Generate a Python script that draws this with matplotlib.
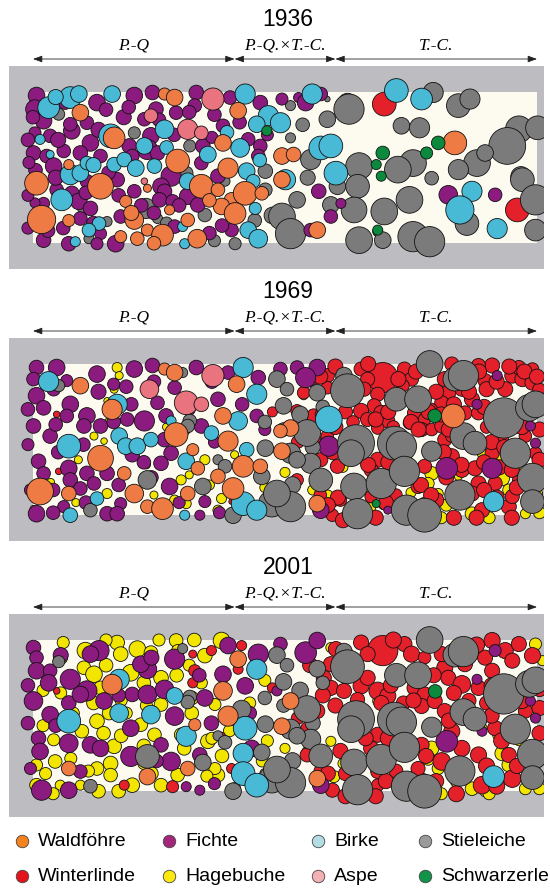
import matplotlib.pyplot as plt
from matplotlib.patches import Circle, Rectangle
from matplotlib.collections import PatchCollection

# Stem maps of a 100 m x 30 m plot; x from west edge, y from north edge, d = crown diameter (m)
# --- 1936 ---
fichte_1936 = [
    (0.7, 0.7, 3.3), (0.4, 3.4, 3.7), (6.4, 2.1, 2.7), (12.7, 2.1, 3.3), (20.1, 0.7, 3.3),
    (23.7, 0.1, 2.9), (24.4, 3.4, 2.9), (22.1, 5.4, 2.7), (28.4, 4.1, 2.7), (32.4, 0.1, 2.9),
    (32.1, 2.7, 2.7), (39.1, 1.1, 2.7), (45.1, 2.1, 2.9), (2.1, 5.7, 3.3), (3.4, 8.7, 2.7),
    (0.4, 8.1, 2.4), (7.7, 7.7, 3.3), (7.4, 6.4, 2.7), (10.7, 6.1, 2.7), (11.4, 10.1, 3.3),
    (19.1, 10.7, 2.9), (23.4, 8.7, 3.3), (22.7, 11.4, 4.0), (33.7, 10.7, 2.9), (37.7, 6.7, 2.7),
    (42.7, 9.4, 2.7), (45.1, 10.7, 2.7), (0.1, 12.1, 2.9), (2.7, 12.7, 2.7), (4.1, 14.7, 3.3),
    (6.1, 11.7, 2.7), (9.4, 12.1, 2.9), (13.4, 12.7, 2.7), (19.7, 12.7, 2.7), (24.7, 12.1, 2.9),
    (27.4, 16.7, 4.0), (33.4, 14.1, 2.7), (36.7, 16.7, 2.9), (44.7, 12.7, 2.7), (4.7, 19.4, 2.7),
    (7.7, 20.1, 2.9), (10.7, 17.7, 2.7), (16.7, 17.4, 2.9), (20.1, 19.7, 2.7), (25.4, 18.7, 3.3),
    (26.1, 19.7, 2.9), (30.7, 20.7, 3.3), (2.1, 22.1, 2.4), (9.1, 21.7, 3.3), (11.4, 23.1, 2.9),
    (25.1, 21.4, 2.9), (27.7, 21.7, 2.7), (32.7, 22.4, 2.9), (9.4, 25.1, 2.7), (13.4, 28.1, 2.4),
    (17.4, 24.7, 2.7), (28.1, 26.7, 2.7), (39.4, 27.4, 2.7), (2.1, 29.4, 2.9), (7.1, 30.1, 2.9),
    (12.7, 30.1, 2.4), (16.4, 30.1, 3.3), (0.0, 5.0, 2.7), (0.4, 22.0, 2.0),
    (5.0, 9.5, 3.0), (13.0, 7.5, 3.0), (18.0, 5.0, 3.0), (14.5, 3.5, 2.7), (4.5, 17.0, 3.0),
    (15.0, 16.0, 2.7), (17.0, 20.5, 2.7), (12.0, 26.0, 2.7), (6.0, 27.0, 2.7), (3.0, 27.5, 2.7),
    (21.5, 22.5, 2.7), (28.0, 8.5, 2.7), (31.0, 4.0, 2.7), (36.0, 4.5, 2.7), (35.0, 28.0, 2.7),
    (37.5, 26.5, 2.7), (25.0, 5.5, 2.7), (19.0, 3.0, 2.7), (0.5, 15.5, 2.7), (-1.0, 27.0, 2.4),
    (10.5, 20.0, 2.7), (24.0, 24.0, 2.7), (29.0, 22.5, 2.7), (35.5, 9.0, 2.4), (41.0, 6.0, 2.7),
    (46.5, 8.5, 2.4), (-1.0, 9.5, 2.7), (-0.8, 14.0, 2.4), (-1.0, 20.5, 2.4),
    (49.4, 1.4, 2.4), (52.7, 1.1, 2.0), (54.1, 2.1, 3.3), (57.1, 0.4, 2.7), (82.4, 20.4, 3.7),
    (91.7, 20.4, 2.7), (56.7, 19.7, 2.9), (59.1, 16.1, 2.0), (61.1, 22.1, 2.0), (59.1, 24.7, 2.7),
    (55.1, 27.4, 2.7),
]
birke_1936 = [
    (3.1, 3.1, 4.3), (7.4, 1.1, 4.3), (9.1, 0.4, 3.3), (15.7, 0.4, 3.3), (42.1, 0.4, 4.0),
    (46.7, 4.7, 4.0), (1.4, 9.4, 2.0), (15.4, 8.7, 4.7), (26.1, 7.4, 3.7), (22.1, 10.7, 3.3),
    (41.1, 11.1, 3.7), (44.4, 6.4, 3.3), (3.4, 12.4, 1.6), (7.4, 16.4, 4.0), (9.4, 16.1, 3.3),
    (10.7, 14.1, 2.7), (16.1, 14.4, 2.9), (18.1, 13.4, 2.9), (20.4, 15.1, 3.3), (24.1, 14.7, 2.9),
    (34.7, 12.4, 3.3), (42.4, 15.7, 3.3), (30.7, 17.7, 3.3), (43.7, 17.7, 2.7), (5.7, 21.4, 4.3),
    (44.1, 23.1, 2.4), (13.1, 26.1, 2.7), (11.1, 27.4, 2.7), (29.7, 26.7, 2.0), (42.7, 27.4, 3.3),
    (44.7, 29.1, 3.7), (8.4, 29.7, 2.0), (30.1, 30.1, 2.0),
    (12.0, 14.5, 3.0), (26.5, 11.0, 2.7), (38.5, 8.0, 2.7), (45.0, 13.5, 2.7), (4.5, 1.0, 3.0),
    (55.4, 0.4, 4.0), (49.1, 6.1, 4.0), (57.1, 11.1, 4.7), (59.1, 10.7, 4.7), (60.1, 16.1, 4.7),
    (50.1, 17.4, 4.0), (72.1, -0.3, 4.7), (77.1, 1.4, 4.3), (87.1, 19.7, 4.0), (84.7, 23.4, 5.6),
    (92.1, 27.1, 4.0),
]
aspe_1936 = [(35.7, 1.4, 4.4), (30.7, 7.4, 4.0), (33.4, 8.1, 2.7), (23.4, 4.7, 2.7), (22.1, 17.7, 1.3)]
waldfoehre_1936 = [
    (9.4, 4.1, 3.3), (26.1, 0.4, 2.4), (28.1, 1.1, 3.3), (40.7, 3.7, 3.3), (16.1, 9.1, 4.3),
    (37.7, 10.1, 3.3), (7.1, 14.4, 2.0), (28.7, 13.7, 4.7), (38.7, 15.1, 4.0), (0.7, 18.1, 4.7),
    (13.4, 18.7, 5.1), (22.7, 19.1, 1.6), (33.4, 18.7, 4.7), (36.7, 19.4, 2.7), (39.4, 21.4, 2.9),
    (42.1, 20.1, 4.7), (45.4, 20.1, 2.7), (18.4, 21.7, 2.4), (27.1, 23.4, 2.0), (37.4, 22.7, 3.3),
    (40.1, 24.1, 4.3), (1.7, 25.3, 5.6), (7.1, 25.5, 2.4), (20.1, 25.4, 3.7), (22.7, 27.4, 2.4),
    (25.7, 28.4, 4.3), (30.7, 25.4, 2.7), (17.4, 28.7, 2.4), (20.7, 29.1, 2.7), (32.6, 29.1, 3.7),
    (19.5, 24.0, 3.0), (35.0, 21.5, 2.7), (24.0, 30.0, 2.7),
    (49.4, 12.7, 3.3), (51.7, 12.4, 2.9), (49.4, 17.4, 3.3), (83.7, 10.1, 4.7), (56.4, 27.4, 3.3),
]
stieleiche_1936 = [
    (5.1, 4.4, 2.4), (20.1, 8.1, 2.4), (31.1, 10.7, 2.4), (30.4, 16.1, 2.7), (46.1, 15.7, 2.9),
    (38.1, 17.7, 2.0), (46.1, 19.4, 2.7), (22.4, 23.1, 4.0), (34.1, 24.4, 2.7), (14.7, 25.7, 2.0),
    (24.7, 25.1, 2.0), (11.1, 29.1, 2.0), (40.1, 30.1, 2.4), (10.0, 23.0, 2.4), (26.5, 26.0, 2.4),
    (36.0, 29.5, 2.4), (44.0, 25.5, 2.7), (47.5, 24.5, 3.3),
    (58.4, 1.4, 1.1), (51.1, 2.7, 2.0), (62.4, 2.1, 3.7), (62.7, 3.4, 6.0), (58.4, 5.4, 3.3),
    (79.4, 0.1, 4.0), (84.4, 2.7, 4.7), (86.7, 1.4, 4.0), (73.1, 6.7, 3.3), (76.7, 7.1, 4.0),
    (96.4, 7.4, 5.3), (100.1, 7.1, 4.7), (94.1, 10.7, 7.3), (51.1, 9.1, 2.0), (55.1, 13.4, 4.0),
    (75.4, 14.1, 5.3), (72.4, 15.4, 5.3), (64.7, 14.7, 5.3), (60.4, 18.7, 3.3), (64.4, 18.7, 4.7),
    (88.1, 14.1, 5.3), (89.7, 12.1, 3.3), (84.4, 15.4, 4.0), (79.1, 17.1, 2.7), (96.8, 16.8, 4.0),
    (97.1, 17.4, 4.7), (99.7, 21.4, 6.0), (86.1, 26.1, 4.7), (99.7, 27.4, 4.3), (63.7, 23.4, 5.1),
    (69.7, 23.7, 5.3), (74.7, 21.4, 5.3), (59.1, 22.4, 3.3), (52.4, 21.4, 3.3), (49.4, 24.7, 5.3),
    (51.1, 28.1, 6.0), (64.7, 29.4, 5.3), (68.4, 27.7, 2.0), (75.4, 28.7, 6.0), (78.7, 29.7, 6.0),
    (69.4, 29.4, 3.3), (53.5, 6.5, 2.7), (54.5, 17.0, 3.0),
]
winterlinde_1936 = [(69.7, 2.4, 4.7), (96.1, 23.4, 4.7)]
schwarzerle_1936 = [
    (69.4, 12.1, 2.7), (68.1, 14.4, 2.0), (69.1, 16.7, 2.0), (78.1, 12.1, 2.4), (80.4, 10.1, 2.7),
    (68.4, 27.4, 2.0), (46.4, 7.7, 2.0),
]

# --- 1969 ---
fichte_1969 = [
    (0.7, 0.7, 2.9), (4.7, 0.7, 3.3), (0.1, 3.0, 2.7), (6.7, 3.3, 2.4), (12.7, 2.0, 3.3),
    (20.1, 1.0, 3.3), (23.7, 0.3, 2.9), (32.4, 0.7, 2.9), (38.7, 1.7, 2.7), (44.7, 2.7, 2.9),
    (0.7, 6.3, 3.3), (2.1, 8.7, 2.9), (7.4, 8.0, 3.3), (6.7, 10.3, 2.7), (10.7, 10.3, 3.3),
    (18.7, 11.0, 2.7), (24.7, 7.7, 2.7), (22.1, 11.3, 4.0), (28.1, 4.7, 2.7), (26.4, 10.3, 2.9),
    (36.7, 7.0, 2.9), (44.4, 10.3, 2.7), (0.1, 12.3, 2.9), (3.4, 14.3, 2.9), (10.1, 12.3, 2.9),
    (13.4, 12.3, 2.9), (26.1, 15.0, 2.9), (33.4, 12.3, 2.9), (19.7, 18.0, 2.9), (27.4, 17.7, 2.9),
    (1.1, 19.3, 2.9), (2.1, 21.7, 2.7), (7.1, 20.7, 3.3), (7.4, 23.0, 2.9), (10.7, 21.7, 2.9),
    (14.7, 21.7, 2.9), (25.4, 19.7, 2.9), (27.1, 24.3, 3.3), (9.4, 24.7, 2.7), (12.1, 23.7, 2.7),
    (17.4, 27.7, 2.4), (34.1, 27.3, 2.4), (0.7, 29.7, 3.3), (6.1, 28.3, 2.4), (14.7, 29.7, 2.9),
    (16.7, 29.7, 2.9), (33.1, 30.0, 2.0), (4.1, 5.0, 2.7), (16.0, 4.0, 2.4), (30.0, 13.0, 2.4),
    (13.0, 5.5, 3.0), (18.5, 4.5, 2.7), (4.5, 12.0, 2.7), (16.0, 11.5, 2.7), (5.0, 17.5, 2.7),
    (10.0, 16.0, 2.7), (22.0, 19.5, 2.7), (17.0, 24.0, 2.7), (23.5, 22.5, 2.7), (4.0, 25.0, 2.7),
    (10.5, 27.5, 2.7), (4.0, 29.5, 2.7), (35.5, 3.5, 2.7), (31.0, 9.0, 2.4), (41.5, 8.0, 2.7),
    (46.0, 13.0, 2.4), (36.0, 15.5, 2.4), (24.0, 3.5, 2.7), (19.5, 8.0, 2.7), (29.0, 27.5, 2.4),
    (37.0, 29.5, 2.4), (-1.0, 9.0, 2.7), (-1.0, 16.0, 2.4), (-0.5, 25.0, 2.4),
    (49.1, 1.0, 2.7), (52.4, 0.7, 2.7), (56.4, 0.7, 3.3), (54.1, 2.7, 4.0), (58.7, 16.3, 4.0),
    (49.1, 17.0, 2.0), (82.1, 20.7, 4.3), (91.1, 20.7, 4.0), (92.1, 2.3, 2.0), (88.1, 8.0, 2.0),
    (98.7, 12.3, 2.0), (99.7, 15.7, 2.0), (57.1, 29.0, 3.3), (70.4, 29.0, 1.6),
]
hagebuche_1969 = [
    (16.7, 0.7, 2.0), (17.1, 2.3, 1.6), (16.1, 5.0, 1.6), (14.7, 7.3, 1.3), (12.1, 14.3, 1.6),
    (14.1, 15.3, 1.3), (2.4, 21.3, 1.3), (34.1, 19.0, 2.0), (29.4, 23.0, 2.0), (14.7, 25.7, 2.0),
    (28.1, 27.0, 2.0), (30.4, 27.7, 2.0), (37.4, 26.7, 2.0), (36.7, 29.0, 2.0), (0.1, 28.7, 1.3),
    (9.0, 19.0, 1.6), (12.0, 18.0, 1.6), (22.5, 20.0, 1.6), (31.0, 22.0, 1.6), (35.0, 24.0, 2.0),
    (42.5, 27.0, 1.6), (8.5, 27.5, 1.6), (24.0, 26.0, 1.6), (3.5, 23.5, 1.6), (15.0, 11.5, 1.6),
    (26.5, 12.5, 1.6), (40.0, 18.0, 1.6), (46.0, 24.5, 2.0), (50.0, 21.5, 2.0), (55.5, 25.0, 2.0),
    (58.5, 26.0, 2.0), (61.5, 20.5, 2.0), (67.0, 28.5, 2.0),
    (79.1, 21.7, 2.7), (78.4, 23.7, 2.4), (80.4, 25.7, 2.0), (93.1, 22.7, 2.9), (94.4, 25.0, 2.4),
    (87.1, 29.7, 2.7), (97.7, 29.7, 2.0), (59.7, 27.3, 2.0), (53.7, 6.3, 1.6), (89.1, 17.7, 2.0),
    (92.4, 19.0, 2.0), (100.1, 25.7, 2.0), (84.4, 22.3, 1.6), (75.0, 25.5, 2.0), (82.0, 28.0, 2.4),
    (81.0, 30.5, 2.4), (90.5, 30.5, 2.4), (100.5, 29.5, 2.4), (96.5, 20.0, 2.0), (77.5, 27.5, 2.0),
]
winterlinde_1969 = [
    (4.7, 10.0, 1.3), (5.1, 21.3, 1.3), (39.4, 27.3, 1.1), (52.5, 15.5, 2.5), (47.5, 9.5, 2.0),
    (57.0, 26.0, 2.5),
    (69.4, 2.7, 6.0), (65.1, 1.0, 2.8), (66.4, 3.0, 2.8), (65.7, 5.0, 2.8), (68.4, 6.0, 2.8),
    (67.7, 8.3, 2.8), (65.1, 9.3, 3.0), (66.4, 11.0, 2.8), (69.1, 9.7, 3.0), (70.4, 11.3, 2.8),
    (68.4, 12.7, 2.5), (73.7, 1.0, 2.8), (75.1, 3.0, 2.8), (73.4, 4.3, 2.5), (75.7, 9.7, 2.8),
    (74.7, 11.7, 2.5), (77.7, 11.0, 2.5), (77.1, 13.0, 2.8), (79.1, 13.0, 2.5), (81.1, 12.3, 2.8),
    (81.7, 3.0, 3.0), (82.4, 5.7, 3.0), (81.1, 7.7, 2.8), (85.1, 5.0, 2.8), (87.1, 7.0, 3.0),
    (85.7, 9.7, 2.8), (88.4, 9.7, 2.8), (89.7, 3.3, 2.8), (91.1, 0.3, 3.0), (93.7, 5.0, 3.0),
    (95.1, 2.3, 3.0), (97.1, 3.0, 3.0), (99.1, 3.7, 3.0), (96.4, 0.7, 2.8), (99.1, 1.0, 2.5),
    (100.4, 5.0, 2.5), (88.4, 0.3, 2.8), (83.1, 0.0, 2.8), (58.4, 2.3, 2.8), (58.4, 4.7, 2.5),
    (55.1, 3.0, 2.8), (53.7, 5.7, 2.5), (52.4, 9.3, 2.5), (55.7, 10.3, 2.8), (55.7, 15.0, 2.8),
    (58.4, 14.3, 2.5), (57.1, 19.0, 2.8), (52.4, 23.0, 2.5), (59.4, 30.0, 2.5), (60.4, 20.3, 2.8),
    (68.4, 19.0, 3.0), (67.1, 21.0, 2.8), (67.7, 23.0, 2.8), (67.1, 26.3, 2.5), (69.7, 27.7, 2.5),
    (76.4, 24.3, 2.8), (77.7, 20.3, 2.8), (83.1, 18.3, 3.0), (85.1, 21.0, 3.0), (87.7, 20.7, 3.0),
    (88.4, 23.7, 3.0), (87.1, 25.7, 3.0), (89.1, 29.0, 3.0), (94.4, 28.3, 3.0), (95.1, 26.3, 2.8),
    (96.4, 23.0, 2.5), (91.7, 23.7, 2.8), (91.1, 17.7, 2.8), (93.1, 15.0, 2.5), (97.7, 14.3, 2.5),
    (99.7, 17.7, 2.5), (81.7, 15.0, 2.8), (83.1, 14.3, 2.5), (62.0, 9.5, 2.8), (63.5, 11.5, 2.5),
    (71.5, 12.5, 2.5), (79.0, 9.0, 2.5), (90.0, 12.5, 2.5), (61.0, 27.0, 2.5), (72.0, 26.0, 2.5),
    (57.0, 2.5, 3.0), (60.0, 0.5, 3.0), (66.5, 0.0, 3.0), (72.5, 3.0, 3.0), (76.0, 1.5, 3.0),
    (80.0, 5.5, 3.0), (78.5, 9.5, 3.0), (81.0, 10.0, 3.0), (83.5, 8.0, 3.0), (86.5, 5.5, 3.0),
    (88.5, 1.5, 3.0), (90.0, 5.0, 3.0), (92.0, 3.5, 3.0), (94.5, 0.5, 3.0), (97.5, 1.5, 3.0),
    (100.0, 2.5, 3.0), (89.5, 8.5, 3.0), (91.0, 15.5, 3.0), (93.5, 16.5, 3.0), (89.5, 19.5, 3.0),
    (92.5, 20.5, 3.0), (97.0, 12.5, 3.0), (100.5, 13.0, 3.0), (100.5, 19.0, 3.0), (95.0, 21.0, 3.0),
    (96.0, 24.5, 3.0), (92.0, 26.5, 3.0), (89.5, 25.0, 3.0), (85.0, 20.0, 3.0), (82.0, 22.5, 3.0),
    (80.0, 27.0, 3.0), (83.5, 30.5, 3.0), (88.0, 30.5, 3.0), (95.0, 30.5, 3.0), (70.5, 19.5, 3.0),
    (66.5, 20.0, 3.0), (59.5, 17.5, 3.0), (60.0, 12.5, 3.0), (57.5, 10.0, 3.0), (68.0, 11.0, 3.0),
    (70.5, 9.5, 3.0), (75.0, 11.5, 3.0), (76.5, 13.0, 3.0), (81.5, 17.5, 3.0), (82.5, 13.0, 3.0),
    (77.0, 24.0, 3.0), (79.0, 26.0, 3.0), (70.0, 27.5, 3.0), (60.5, 26.5, 3.0), (58.5, 28.0, 3.0),
    (68.0, 30.5, 3.0), (61.5, 31.0, 3.0),
]
stieleiche_1969 = [
    (5.1, 4.3, 2.4), (29.7, 1.7, 2.0), (31.1, 11.3, 2.7), (30.7, 12.3, 2.7), (46.1, 16.7, 3.3),
    (22.7, 23.0, 3.7), (36.7, 19.0, 2.0), (38.1, 20.3, 2.7), (45.4, 22.3, 3.3), (33.7, 24.3, 3.3),
    (11.4, 29.0, 2.7), (39.7, 30.0, 3.3), (47.4, 27.7, 5.3), (46.0, 11.5, 2.7),
    (48.4, 3.0, 3.3), (50.4, 5.0, 2.7), (49.7, 8.3, 3.3), (49.7, 13.0, 2.7), (51.1, 17.7, 4.0),
    (53.0, 10.0, 3.3), (57.5, 8.5, 2.7), (51.5, 24.0, 3.3), (55.5, 16.5, 3.0),
    (54.4, 13.7, 5.3), (56.4, 5.7, 3.3), (61.7, 2.3, 3.3), (62.4, 5.3, 6.7), (78.7, 0.0, 5.3),
    (83.7, 3.0, 4.7), (85.4, 2.3, 6.0), (72.1, 7.0, 4.7), (76.4, 7.0, 5.3), (93.4, 10.7, 8.0),
    (98.4, 8.7, 5.3), (99.7, 8.0, 5.3), (64.1, 15.7, 7.3), (63.1, 17.7, 5.3), (71.7, 15.7, 6.7),
    (73.1, 16.3, 6.0), (79.1, 17.3, 4.0), (55.1, 19.7, 4.0), (52.4, 19.0, 3.3), (57.1, 23.0, 4.7),
    (63.7, 24.3, 5.3), (69.1, 23.7, 6.0), (73.7, 21.3, 6.0), (85.4, 14.3, 5.3), (87.7, 15.7, 4.7),
    (95.7, 17.7, 6.0), (84.7, 26.0, 6.0), (99.1, 22.7, 6.0), (99.1, 27.3, 4.7), (51.1, 28.3, 6.0),
    (48.4, 25.7, 5.3), (64.4, 29.7, 6.0), (74.1, 29.0, 6.0), (77.7, 30.0, 6.7),
]
birke_1969 = [
    (3.1, 3.5, 4.0), (41.7, 0.7, 4.0), (44.4, 6.0, 4.0), (16.7, 8.0, 4.0), (27.4, 11.3, 2.0),
    (40.7, 11.3, 3.7), (7.1, 16.3, 4.7), (17.1, 14.3, 3.3), (18.4, 16.3, 3.3), (20.7, 16.3, 3.3),
    (23.4, 15.0, 2.9), (35.4, 13.7, 2.9), (42.4, 17.0, 2.9), (30.4, 19.3, 3.3), (12.7, 26.7, 2.7),
    (7.4, 30.0, 2.9), (30.1, 30.0, 2.0), (41.7, 27.7, 4.7), (44.4, 29.0, 4.0),
    (58.7, 11.0, 5.3), (91.4, 27.3, 4.0),
]
aspe_1969 = [(35.7, 2.3, 4.4), (23.1, 5.0, 3.7), (30.4, 7.7, 4.7), (33.4, 8.0, 2.9)]
waldfoehre_1969 = [
    (9.4, 4.3, 3.3), (26.1, 1.0, 2.4), (28.1, 1.7, 3.3), (40.4, 4.0, 3.3), (15.7, 9.0, 4.0),
    (37.7, 10.3, 3.3), (28.4, 14.0, 4.7), (38.7, 15.3, 4.0), (31.7, 17.0, 2.4), (13.4, 18.7, 5.1),
    (18.1, 21.7, 2.7), (32.7, 20.7, 2.7), (36.7, 22.3, 2.9), (41.7, 20.3, 4.3), (45.1, 20.3, 2.9),
    (1.4, 25.3, 5.3), (7.1, 25.7, 2.9), (30.7, 25.7, 2.9), (39.7, 24.7, 4.3), (20.1, 25.7, 3.7),
    (22.7, 28.3, 2.7), (25.7, 28.7, 4.3),
    (51.1, 12.7, 3.3), (49.1, 13.3, 2.7), (49.4, 17.3, 3.3), (83.4, 10.3, 4.7), (56.4, 27.7, 3.3),
]
schwarzerle_1969 = [(79.7, 10.3, 2.7), (68.1, 27.7, 1.6)]

# --- 2001 ---
fichte_2001 = [
    (0.1, 1.5, 2.9), (0.7, 3.5, 2.7), (13.1, 2.1, 4.0), (11.4, 2.8, 3.3), (28.1, 3.8, 4.0),
    (38.7, 1.1, 3.3), (44.7, 2.8, 4.0), (0.7, 6.1, 3.3), (3.4, 6.1, 2.7), (3.1, 8.5, 3.3),
    (7.4, 7.8, 4.0), (10.7, 10.1, 4.0), (22.7, 5.8, 3.7), (21.4, 4.8, 3.3), (0.1, 12.1, 3.7),
    (3.4, 14.8, 3.3), (7.1, 12.5, 2.9), (9.4, 10.8, 3.3), (14.1, 12.1, 3.3), (19.7, 10.8, 2.9),
    (22.7, 10.8, 3.7), (26.1, 9.8, 3.7), (34.1, 11.5, 3.3), (37.7, 6.8, 3.3), (42.1, 9.1, 3.3),
    (28.1, 15.1, 3.7), (19.4, 17.5, 3.3), (35.4, 16.5, 2.9), (1.1, 19.5, 2.9), (1.4, 22.1, 3.3),
    (7.1, 20.5, 3.7), (11.4, 20.8, 3.3), (13.4, 21.5, 3.3), (19.4, 23.1, 4.0), (25.4, 20.8, 2.9),
    (27.4, 24.1, 3.7), (33.1, 22.8, 2.9), (43.4, 21.5, 3.3), (9.4, 26.1, 2.7), (33.1, 29.8, 2.0),
    (1.7, 29.8, 4.0), (7.1, 29.8, 3.3), (30.4, 29.1, 2.0),
    (5.5, 3.0, 3.0), (17.0, 11.0, 2.7), (4.5, 17.0, 2.7), (24.5, 24.0, 2.7), (23.5, 3.5, 3.0),
    (33.0, 7.0, 2.7), (36.0, 28.5, 2.4), (43.0, 14.5, 2.7), (-1.0, 9.0, 2.7), (-1.0, 16.5, 2.7),
    (-0.5, 25.5, 2.4),
    (61.7, 4.8, 3.7), (54.1, 2.5, 4.3), (56.4, 0.1, 3.3), (49.1, 0.8, 2.7), (88.1, 7.8, 2.0),
    (82.1, 20.1, 4.3), (98.7, 12.1, 2.0), (99.7, 15.5, 2.0), (91.7, 2.1, 2.4), (57.1, 28.8, 3.3),
    (89.1, 18.1, 2.0), (48.4, 10.1, 2.0),
]
hagebuche_2001 = [
    (10.4, 2.1, 3.3), (16.7, 0.5, 2.9), (17.4, 2.8, 2.9), (20.7, 1.8, 3.3), (23.4, 2.5, 2.7),
    (28.4, 0.1, 2.7), (28.7, 2.1, 2.4), (34.1, 3.1, 2.9), (37.4, 0.1, 3.3), (10.1, 5.5, 2.7),
    (12.1, 6.8, 3.3), (19.4, 6.5, 3.3), (25.4, 7.5, 2.9), (13.4, 9.5, 2.7), (12.7, 16.1, 2.9),
    (15.1, 14.5, 2.7), (25.4, 12.8, 2.7), (21.4, 16.8, 2.7), (4.1, 19.8, 2.4), (9.7, 18.1, 2.7),
    (16.1, 21.1, 2.9), (15.4, 24.5, 2.9), (34.7, 20.1, 2.9), (0.7, 24.8, 2.4), (4.4, 24.1, 2.7),
    (12.7, 25.5, 2.7), (15.4, 26.8, 2.7), (19.7, 28.8, 2.9), (28.7, 26.8, 2.7), (25.4, 28.8, 2.7),
    (36.7, 26.8, 2.7), (0.7, 28.8, 2.7), (5.4, 28.8, 2.0), (9.4, 28.8, 2.0), (33.4, 8.5, 2.4),
    (36.1, 12.8, 2.4), (24.1, 18.8, 2.7), (36.1, 25.5, 2.4), (29.4, 18.8, 2.7), (2.5, 26.5, 2.4),
    (17.5, 12.0, 2.4), (31.0, 5.0, 2.4), (6.0, 16.5, 2.0), (39.0, 18.0, 2.4), (22.0, 24.5, 2.4),
    (5.5, 3.5, 2.7), (14.5, 5.0, 2.7), (22.0, 8.5, 2.7), (28.5, 7.0, 2.7), (31.5, 11.5, 2.7),
    (2.0, 10.0, 2.4), (5.5, 10.5, 2.4), (12.0, 12.5, 2.7), (18.5, 14.5, 2.4), (22.5, 13.0, 2.4),
    (31.5, 14.5, 2.7), (35.5, 19.5, 2.4), (8.0, 14.5, 2.4), (2.0, 17.0, 2.4), (14.0, 18.5, 2.7),
    (17.5, 19.0, 2.7), (22.0, 21.0, 2.7), (30.0, 21.5, 2.7), (37.5, 23.0, 2.7), (40.0, 29.5, 2.4),
    (34.5, 27.0, 2.4), (23.5, 26.5, 2.7), (17.0, 30.0, 2.7), (13.0, 30.0, 2.7), (4.0, 30.5, 2.4),
    (11.0, 26.0, 2.4), (7.5, 23.5, 2.4), (46.0, 8.0, 2.4), (46.5, 20.0, 2.4), (45.5, 24.0, 2.4),
    (43.0, 12.5, 2.4), (32.0, 0.0, 2.7), (25.0, 0.0, 2.4), (14.5, 0.0, 2.4), (6.0, 0.5, 2.4),
    (79.1, 21.5, 2.9), (78.4, 23.5, 2.7), (80.4, 25.5, 2.4), (93.1, 22.5, 2.9), (94.4, 24.8, 2.7),
    (87.1, 29.5, 2.7), (89.7, 30.1, 2.0), (97.7, 29.5, 2.4), (59.7, 27.1, 2.4), (54.4, 22.1, 2.0),
    (59.1, 20.1, 2.0), (99.7, 0.8, 2.4), (101.1, 4.1, 2.0), (92.4, 18.8, 2.4), (89.1, 17.5, 2.0),
    (63.7, 6.5, 2.0), (68.4, 12.1, 2.0), (59.1, 1.5, 2.0), (100.5, 24.0, 2.0), (84.0, 28.0, 2.4),
    (76.0, 26.5, 2.0), (61.5, 24.5, 2.0), (81.0, 30.5, 2.4), (90.5, 30.5, 2.4), (100.5, 29.5, 2.4),
    (96.5, 20.0, 2.0), (77.5, 27.5, 2.0), (50.0, 21.5, 2.0), (46.0, 26.5, 2.0),
]
winterlinde_2001 = [
    (31.7, 2.8, 1.6), (32.1, 6.1, 2.4), (35.4, 2.1, 2.0), (41.4, 1.1, 2.0), (4.7, 10.1, 1.3),
    (40.7, 5.8, 2.0), (37.4, 19.1, 1.6), (18.1, 28.8, 2.0), (27.7, 29.1, 2.4), (39.4, 25.5, 2.0),
    (31.7, 8.5, 2.0), (52.5, 15.5, 2.5), (47.5, 9.5, 2.0), (57.0, 26.0, 2.5),
    (69.4, 2.1, 6.0), (65.1, 0.5, 3.0), (66.4, 2.8, 3.0), (63.7, 4.1, 3.0), (60.1, 1.8, 3.0),
    (59.1, 4.8, 3.0), (57.7, 7.5, 3.0), (59.1, 9.5, 3.0), (61.7, 10.1, 3.0), (65.1, 9.1, 3.2),
    (66.4, 7.5, 3.0), (68.4, 10.1, 3.5), (70.4, 11.1, 3.2), (69.1, 12.5, 3.0), (64.4, 11.8, 2.8),
    (73.7, 0.8, 3.0), (75.1, 2.8, 3.2), (77.7, 3.5, 2.5), (75.7, 9.5, 3.0), (77.7, 10.8, 3.0),
    (77.1, 13.1, 3.0), (79.7, 12.1, 3.0), (81.7, 5.5, 3.2), (82.4, 7.5, 3.0), (85.1, 8.8, 3.5),
    (81.1, 2.8, 3.0), (85.7, 4.8, 3.0), (88.4, 9.5, 3.0), (89.7, 3.5, 3.0), (91.1, 0.1, 3.2),
    (93.7, 2.1, 3.2), (96.4, 0.8, 3.0), (99.1, 3.1, 3.2), (95.1, 4.1, 3.0), (91.1, 6.1, 3.0),
    (54.4, 17.5, 2.5), (56.4, 14.1, 3.0), (54.4, 22.8, 2.8), (59.4, 29.8, 2.8), (68.4, 18.8, 3.0),
    (67.1, 21.5, 3.0), (68.4, 26.1, 2.8), (68.4, 28.8, 2.5), (77.1, 20.8, 3.0), (76.4, 25.5, 2.8),
    (81.7, 14.1, 3.0), (83.1, 18.1, 3.2), (85.1, 21.5, 3.2), (81.1, 24.1, 3.5), (88.4, 22.8, 3.2),
    (89.1, 28.8, 3.5), (95.1, 27.5, 3.5), (94.4, 22.8, 3.0), (91.7, 17.5, 3.0), (97.7, 14.1, 2.8),
    (97.7, 22.8, 2.8), (73.5, 12.5, 2.8), (90.0, 12.5, 2.8), (62.0, 26.5, 2.8), (72.0, 26.0, 2.8),
    (86.5, 12.0, 2.8), (100.5, 10.0, 2.5),
    (55.0, 5.0, 3.0), (71.5, 0.0, 3.2), (79.5, 7.0, 3.0), (83.5, 10.5, 3.0), (88.0, 1.0, 3.2),
    (91.0, 9.0, 3.0), (97.0, 12.0, 3.2), (100.5, 13.5, 3.0), (100.5, 18.5, 3.0), (91.0, 15.0, 3.0),
    (93.0, 20.0, 3.2), (90.0, 25.0, 3.2), (96.0, 25.0, 3.0), (92.0, 29.0, 3.2), (84.0, 30.5, 3.2),
    (80.0, 28.0, 3.0), (78.0, 23.0, 3.0), (70.5, 19.5, 3.2), (66.0, 19.5, 3.0), (60.0, 13.0, 3.0),
    (57.5, 11.0, 3.0), (71.0, 9.0, 3.0), (75.5, 12.0, 3.0), (82.5, 16.0, 3.0), (70.0, 28.0, 3.0),
    (61.0, 22.0, 3.0), (58.5, 26.5, 3.0), (68.0, 31.0, 3.0), (62.0, 31.0, 3.0),
]
stieleiche_2001 = stieleiche_1969 + [(41.4, 13.8, 3.7), (22.7, 23.1, 4.7)]
birke_2001 = [
    (17.1, 7.8, 4.0), (44.4, 5.8, 4.0), (7.1, 16.1, 4.7), (17.1, 14.5, 3.7), (23.4, 14.8, 3.7),
    (28.1, 11.1, 3.3), (30.4, 19.1, 4.0), (42.1, 17.5, 4.7), (41.7, 22.5, 4.0), (41.7, 26.5, 4.7),
    (44.4, 28.8, 4.7), (91.4, 27.1, 4.3),
]
waldfoehre_2001 = [
    (40.7, 3.8, 3.3), (15.7, 8.8, 4.0), (37.7, 10.1, 3.7), (38.7, 15.1, 4.0), (32.1, 16.8, 2.4),
    (30.7, 25.5, 2.9), (7.1, 25.5, 2.9), (22.7, 27.1, 3.3),
    (51.1, 12.1, 3.3), (49.4, 17.1, 3.3), (56.4, 27.5, 3.3),
]
schwarzerle_2001 = [(79.7, 10.1, 2.7)]

years = ['1936', '1969', '2001']
section_edges = [0, 40, 60, 100]
section_labels = ['P.-Q', 'P.-Q.×T.-C.', 'T.-C.']

species = ['Waldföhre', 'Fichte', 'Birke', 'Stieleiche',
           'Winterlinde', 'Hagebuche', 'Aspe', 'Schwarzerle']
map_colors = {
    'Waldföhre': '#ee7b43', 'Fichte': '#8c1b7f', 'Birke': '#49bad6', 'Stieleiche': '#7b7b7b',
    'Winterlinde': '#e4202a', 'Hagebuche': '#f2e500', 'Aspe': '#e9737f', 'Schwarzerle': '#0b8a3d',
}
legend_colors = {
    'Waldföhre': '#f5821f', 'Fichte': '#a3257c', 'Birke': '#b4dde3', 'Stieleiche': '#9a9a9a',
    'Winterlinde': '#e3131c', 'Hagebuche': '#fbe90f', 'Aspe': '#f4b1b4', 'Schwarzerle': '#11944a',
}

# drawing order inside each map (later layers lie on top)
stands = {
    '1936': [('Winterlinde', winterlinde_1936), ('Stieleiche', stieleiche_1936),
             ('Fichte', fichte_1936), ('Birke', birke_1936), ('Aspe', aspe_1936),
             ('Waldföhre', waldfoehre_1936), ('Schwarzerle', schwarzerle_1936)],
    '1969': [('Hagebuche', hagebuche_1969), ('Winterlinde', winterlinde_1969),
             ('Fichte', fichte_1969), ('Stieleiche', stieleiche_1969), ('Birke', birke_1969),
             ('Aspe', aspe_1969), ('Waldföhre', waldfoehre_1969), ('Schwarzerle', schwarzerle_1969)],
    '2001': [('Hagebuche', hagebuche_2001), ('Winterlinde', winterlinde_2001),
             ('Fichte', fichte_2001), ('Stieleiche', stieleiche_2001), ('Birke', birke_2001),
             ('Waldföhre', waldfoehre_2001), ('Schwarzerle', schwarzerle_2001)],
}

W, H = 550, 895
fig = plt.figure(figsize=(W / 100, H / 100), dpi=100)
fig.patch.set_facecolor('white')

SCALE = 5.04           # px per metre
X0, Y0 = -4.76, -5.16  # buffer strip around the plot
panel_tops = [67, 339, 615]
panel_w, panel_h = 535, 203

for year, top in zip(years, panel_tops):
    ax = fig.add_axes([9 / W, (H - top - panel_h) / H, panel_w / W, panel_h / H])
    ax.set_xlim(X0, X0 + panel_w / SCALE)
    ax.set_ylim(Y0 + panel_h / SCALE, Y0)
    ax.set_facecolor('#bdbcc1')
    ax.set_xticks([])
    ax.set_yticks([])
    for s in ax.spines.values():
        s.set_visible(False)
    ax.add_patch(Rectangle((0, 0), 100, 30, facecolor='#fdfaf0', edgecolor='none', zorder=0))

    for name, trees in stands[year]:
        circles = [Circle((x, y), d / 2) for x, y, d in trees]
        ax.add_collection(PatchCollection(circles, facecolor=map_colors[name],
                                          edgecolor='#111111', linewidth=0.6, zorder=2))

    # stand types along the top
    ya = Y0 - 7 / SCALE
    for x0, x1, lab in zip(section_edges[:-1], section_edges[1:], section_labels):
        ax.annotate('', xy=(x1, ya), xytext=(x0, ya), annotation_clip=False,
                    arrowprops=dict(arrowstyle='<|-|>,head_length=0.55,head_width=0.2',
                                    color='#222222', lw=0.6, shrinkA=0, shrinkB=0))
        ax.text((x0 + x1) / 2, Y0 - 21 / SCALE, lab, ha='center', va='center',
                family='Liberation Serif', style='italic', fontsize=12.5, clip_on=False)
    ax.text(50.6, Y0 - 47 / SCALE, year, ha='center', va='center',
            family='Liberation Sans', fontsize=16.5, clip_on=False)

# species key
lax = fig.add_axes([0, 0, 1, 70 / H])
lax.set_xlim(0, W)
lax.set_ylim(70, 0)
lax.axis('off')
key_x = [22, 169, 318, 425]
key_y = [17, 52]
for i, name in enumerate(species):
    kx = key_x[i % 4]
    ky = key_y[i // 4]
    lax.plot(kx, ky, 'o', ms=9, mfc=legend_colors[name], mec='#444444', mew=0.6)
    lax.text(kx + 16, ky, name, va='center', ha='left',
             family='Liberation Sans', fontsize=14)

fig.savefig('out.png', dpi=100)
